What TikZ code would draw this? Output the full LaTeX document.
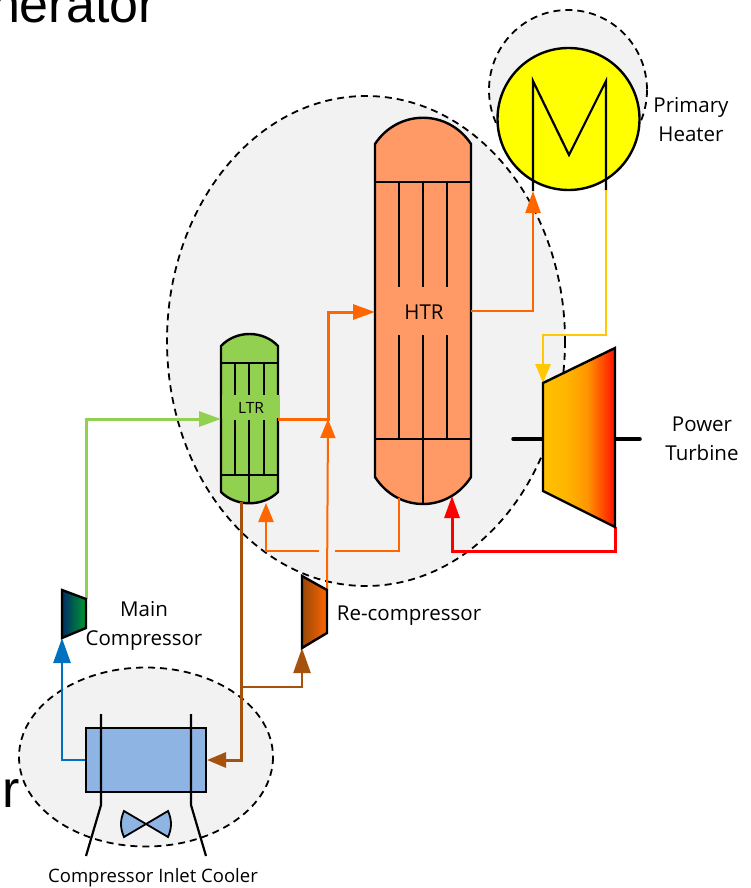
\documentclass[tikz,border=0pt]{standalone}
\usepackage{fontspec}
\setmainfont{Open Sans}
\newfontfamily\bigfont{Liberation Sans}
\usetikzlibrary{arrows.meta}
\definecolor{regionfill}{HTML}{F2F2F2}
\definecolor{htrfill}{HTML}{FF9966}
\definecolor{ltrfill}{HTML}{92D050}
\definecolor{coolfill}{HTML}{8EB4E3}
\definecolor{heaterfill}{HTML}{FFFF00}
\definecolor{flowgreen}{HTML}{92D050}
\definecolor{floworange}{HTML}{FF6600}
\definecolor{flowbrown}{HTML}{A5520F}
\definecolor{flowblue}{HTML}{0070C0}
\definecolor{flowyellow}{HTML}{FFC800}
\definecolor{flowred}{HTML}{FF0000}
\definecolor{tgA}{HTML}{FFC000}
\definecolor{tgB}{HTML}{FFB400}
\definecolor{tgC}{HTML}{FF9400}
\definecolor{tgD}{HTML}{FF1000}
\definecolor{mcA}{HTML}{002D66}
\definecolor{mcB}{HTML}{00992E}
\definecolor{rcA}{HTML}{984807}
\definecolor{rcB}{HTML}{FF6600}
\pgfdeclarehorizontalshading{turbineshade}{100bp}{color(0bp)=(tgA); color(25bp)=(tgA); color(42bp)=(tgB); color(56bp)=(tgC); color(75bp)=(tgD); color(100bp)=(tgD)}
\tikzset{
  region/.style={draw=black,fill=regionfill,line width=1.8pt,dash pattern=on 7pt off 5pt},
  outline/.style={draw=black,line width=2.4pt,line join=miter},
  inner/.style={draw=black,line width=2.2pt},
  flow/.style={line width=2.4pt,line join=miter},
  headA/.style={-{Triangle[length=19pt,width=15pt]}},
  headB/.style={-{Triangle[length=25pt,width=17pt]}},
  headC/.style={-{Triangle[length=22pt,width=15pt]}},
  label/.style={inner sep=0pt,font=\fontsize{20.5}{29}\selectfont,align=center,text=black},
  bigtext/.style={inner sep=0pt,font=\bigfont\fontsize{52}{52}\selectfont},
  shaft/.style={draw=black,line width=3.5pt,line cap=round}
}
\begin{document}
\begin{tikzpicture}[x=1pt,y=-1pt]
\useasboundingbox (0,0) rectangle (751,888);
% regions
\draw[region] (366,341) ellipse [x radius=199,y radius=245];
\draw[region] (568,90) ellipse [x radius=79,y radius=80];
\draw[region] (146,757) ellipse [x radius=127,y radius=89.5];
% anchors
\coordinate (ltrin) at (221,419);
\coordinate (ltrout) at (278,419);
\coordinate (ltrbot) at (241,502);
\coordinate (ltrret) at (266,503);
\coordinate (htrin) at (375,312);
\coordinate (htrout) at (471,311);
\coordinate (htrbot) at (399,498);
\coordinate (htrret) at (452,496);
\coordinate (heatin) at (533,191);
\coordinate (heatout) at (606,190);
\coordinate (turbin) at (543,383);
\coordinate (turbout) at (615,527);
\coordinate (mctop) at (86,599);
\coordinate (mcbot) at (62,638);
\coordinate (rctop) at (327,590);
\coordinate (rcbot) at (302,648);
\coordinate (mergept) at (328,419);
\coordinate (branchpt) at (241,687);
\coordinate (gapL) at (319,551);
\coordinate (gapR) at (335,551);
% heater
\draw[outline,fill=heaterfill] (568.5,119) circle [radius=71];
\draw[inner,line join=miter] (533,191) -- (533,81) -- (569,155) -- (606,81) -- (606,191);
% HTR
\draw[outline,fill=htrfill] (375,144) .. controls (398,109) and (448,109) .. (471,144) -- (471,477) .. controls (448,513) and (398,513) .. (375,477) -- cycle;
\draw[inner] (375,182) -- (471,182);
\draw[inner] (375,439) -- (471,439);
\foreach \tx in {399,423,447}{\draw[inner] (\tx,182) -- (\tx,287);}
\foreach \tx in {399,423,447}{\draw[inner] (\tx,335) -- (\tx,439);}
\draw[inner] (423,439) -- (423,504);
\node[label] (htrlabel) at (424,312) {HTR};
% LTR
\draw[outline,fill=ltrfill] (221,346) .. controls (236,330) and (263,330) .. (278,346) -- (278,492) .. controls (263,507) and (236,507) .. (221,492) -- cycle;
\draw[inner] (221,363) -- (278,363);
\draw[inner] (221,475) -- (278,475);
\foreach \tx in {235,249,264}{\draw[inner] (\tx,363) -- (\tx,395);}
\foreach \tx in {235,249,264}{\draw[inner] (\tx,420) -- (\tx,475);}
\draw[inner] (249,475) -- (249,503);
\fill[ltrfill] (222,395) rectangle (279.5,418);
\node[label,font=\fontsize{15.5}{18}\selectfont] (ltrlabel) at (251,408) {LTR};
% connectors
\draw[flow,headC,flowgreen,line width=3pt] (mctop) -- (86,419) -- (ltrin);
\draw[flow,headA,floworange,line width=2pt] (rctop) -- (mergept);
\draw[flow,headC,floworange,line width=3pt] (ltrout) -- (mergept) -- (328,312) -- (htrin);
\draw[flow,headC,floworange] (htrout) -- (533,311) -- (heatin);
\draw[flow,headA,flowyellow,line width=2.6pt] (heatout) -- (606,335) -- (543,335) -- (turbin);
\draw[flow,headC,flowred,line width=3pt] (turbout) -- (615,551) -- (452,551) -- (htrret);
\draw[flow,floworange] (htrbot) -- (399,551) -- (gapR);
\draw[flow,headA,floworange] (gapL) -- (266,551) -- (ltrret);
\draw[flow,headA,flowbrown,line width=3pt] (ltrbot) -- (241,760) -- (207,760);
\draw[flow,headB,flowbrown] (branchpt) -- (302,687) -- (rcbot);
\draw[flow,headB,flowblue,line width=2.6pt] (86,760) -- (62,760) -- (mcbot);
% turbine and shaft
\draw[shaft] (513,439) -- (543,439);
\draw[shaft] (615,439) -- (640,439);
\draw[outline,shading=turbineshade] (543,383) -- (615,348) -- (615,527) -- (543,491) -- cycle;
% compressors
\draw[outline,left color=mcA,right color=mcB] (62,590) -- (86,599) -- (86,628) -- (62,638) -- cycle;
\draw[outline,left color=rcA,right color=rcB] (302,576) -- (327,590) -- (327,633) -- (302,648) -- cycle;
% cooler
\node[draw=black,line width=2.4pt,fill=coolfill,minimum width=120pt,minimum height=64pt,inner sep=0pt] (cooler) at (146,760) {};
\draw[inner] (101,714) -- (101,805) -- (86,856);
\draw[inner] (191,714) -- (191,805) -- (206,856);
\draw[outline,fill=coolfill,line width=1.8pt] (124,811) -- (168,837) .. controls (172,828) and (172,820) .. (168,811) -- (124,837) .. controls (120,828) and (120,820) .. (124,811) -- cycle;
% labels
\node[label] (heaterlabel) at (691,120) {Primary\\Heater};
\node[label] (turbinelabel) at (702,439) {Power\\Turbine};
\node[label] (mclabel) at (144,626) {Main\\Compressor};
\node[label] (rclabel) at (409,616) {Re-compressor};
\node[label,font=\fontsize{18.5}{24}\selectfont] (coolerlabel) at (153,878) {Compressor Inlet Cooler};
\node[bigtext,anchor=base east] (cropA) at (156,23) {nerator};
\node[bigtext,anchor=base west] (cropB) at (2,807) {r};
\end{tikzpicture}
\end{document}
